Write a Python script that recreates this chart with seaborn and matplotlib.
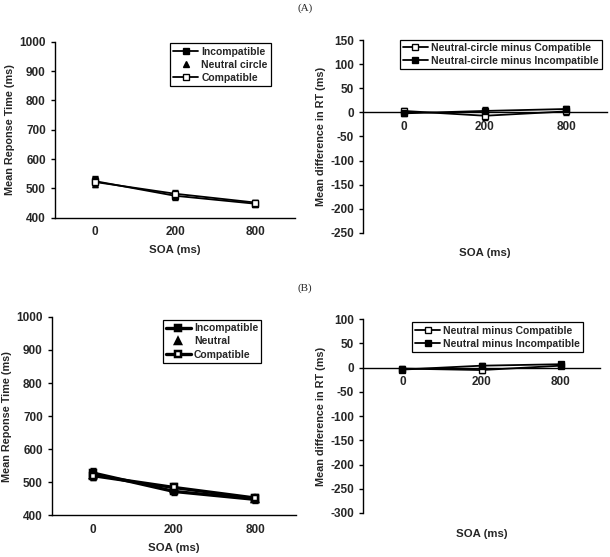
import numpy as np
import matplotlib
matplotlib.use("Agg")
import matplotlib.pyplot as plt
import seaborn as sns

sns.set_style("white")
plt.rcParams['font.family'] = ['Liberation Sans', 'DejaVu Sans']
plt.rcParams['font.weight'] = 'bold'
plt.rcParams['font.size'] = 7.5
plt.rcParams['axes.unicode_minus'] = False

# data
soa = ["0", "200", "800"]

a_incompatible = [525, 475, 448]
a_neutral = [522, 478, 450]
a_compatible = [522, 482, 452]
a_rt_err = [16, 13, 10]

a_diff_compatible = [3, -7, 2]
a_diff_incompatible = [-2, 3, 7]
a_diff_err = [6, 8, 7]

b_incompatible = [528, 472, 448]
b_neutral = [522, 478, 450]
b_compatible = [520, 484, 452]
b_rt_err = [14, 12, 11]

b_diff_compatible = [-2, -5, 4]
b_diff_incompatible = [-4, 4, 7]
b_diff_err = [6, 6, 5]

fig = plt.figure(figsize=(6.1, 5.57), dpi=100)

ax_a1 = fig.add_axes([0.090, 0.609, 0.394, 0.316])
ax_a2 = fig.add_axes([0.595, 0.582, 0.400, 0.346])
ax_b1 = fig.add_axes([0.085, 0.075, 0.400, 0.356])
ax_b2 = fig.add_axes([0.595, 0.079, 0.389, 0.348])


def rt_panel(ax, inc, neu, com, err, neutral_name, lw):
    pos = np.arange(len(soa))
    for vals in (inc, neu, com):
        ax.errorbar(pos, vals, yerr=err, fmt='none', ecolor='black', elinewidth=1, capsize=2, capthick=1)
    sns.pointplot(x=soa, y=inc, color='black', markers='s', linestyles='-', errorbar=None,
                  ax=ax, label='Incompatible', markersize=5, linewidth=lw)
    sns.pointplot(x=soa, y=neu, color='black', markers='^', linestyles='none', errorbar=None,
                  ax=ax, label=neutral_name, markersize=5, linewidth=lw)
    sns.pointplot(x=soa, y=com, color='black', markers='s', linestyles='-', errorbar=None,
                  ax=ax, label='Compatible', markersize=5, linewidth=lw, markerfacecolor='white')
    ax.set_ylim(400, 1000)
    ax.set_yticks(range(400, 1001, 100))
    ax.set_xlim(-0.5, 2.5)
    ax.set_ylabel("Mean Reponse Time (ms)", fontweight='bold', fontsize=7.8, labelpad=3)
    ax.set_xlabel("SOA (ms)", fontweight='bold', fontsize=8.2, labelpad=5)


def diff_panel(ax, dc, di, err, names, ylim, step):
    pos = np.arange(len(soa))
    for vals in (dc, di):
        ax.errorbar(pos, vals, yerr=err, fmt='none', ecolor='black', elinewidth=1, capsize=2, capthick=1)
    sns.pointplot(x=soa, y=dc, color='black', markers='s', linestyles='-', errorbar=None,
                  ax=ax, label=names[0], markersize=4.5, linewidth=1.3, markerfacecolor='white')
    sns.pointplot(x=soa, y=di, color='black', markers='s', linestyles='-', errorbar=None,
                  ax=ax, label=names[1], markersize=4.5, linewidth=1.3)
    ax.set_ylim(*ylim)
    ax.set_yticks(range(ylim[0], ylim[1] + 1, step))
    ax.set_xlim(-0.5, 2.5)
    ax.spines['bottom'].set_position(('data', 0))
    ax.set_ylabel("Mean difference in RT (ms)", fontweight='bold', fontsize=7.8, labelpad=3)
    ax.set_xlabel("SOA (ms)", fontweight='bold', fontsize=8.2)
    ax.xaxis.set_label_coords(0.5, -0.08)


rt_panel(ax_a1, a_incompatible, a_neutral, a_compatible, a_rt_err, "Neutral circle", 1.3)
rt_panel(ax_b1, b_incompatible, b_neutral, b_compatible, b_rt_err, "Neutral", 2.4)
diff_panel(ax_a2, a_diff_compatible, a_diff_incompatible, a_diff_err,
           ["Neutral-circle minus Compatible", "Neutral-circle minus Incompatible"], (-250, 150), 50)
diff_panel(ax_b2, b_diff_compatible, b_diff_incompatible, b_diff_err,
           ["Neutral minus Compatible", "Neutral minus Incompatible"], (-300, 100), 50)

legend_spots = {ax_a1: (0.92, 1.02), ax_b1: (0.88, 1.01), ax_a2: (1.0, 1.03), ax_b2: (0.95, 1.01)}
for ax in (ax_a1, ax_a2, ax_b1, ax_b2):
    sns.despine(ax=ax)
    for s in ('left', 'bottom'):
        ax.spines[s].set_color('black')
        ax.spines[s].set_linewidth(1)
    ax.tick_params(axis='x', which='major', length=0, pad=6, labelsize=8.5)
    ax.set_xticks([0.5, 1.5, 2.5], minor=True)
    ax.tick_params(axis='x', which='minor', length=3, direction='out', color='black', width=1)
    ax.tick_params(axis='y', length=3, direction='out', color='black', left=True, width=1, labelsize=8.5)
    for t in ax.get_xticklabels() + ax.get_yticklabels():
        t.set_fontweight('bold')
    leg = ax.legend(loc='upper right', bbox_to_anchor=legend_spots[ax], frameon=True, fancybox=False,
                    edgecolor='black', framealpha=1, handlelength=2.4, borderpad=0.3,
                    labelspacing=0.3, handletextpad=0.3, prop={'weight': 'bold', 'size': 7.5})
    leg.get_frame().set_linewidth(0.9)

fig.text(0.5, 0.985, "(A)", ha='center', va='center', family='Liberation Serif', fontsize=8, fontweight='normal')
fig.text(0.5, 0.483, "(B)", ha='center', va='center', family='Liberation Serif', fontsize=8, fontweight='normal')

fig.savefig("out.png", dpi=100)
